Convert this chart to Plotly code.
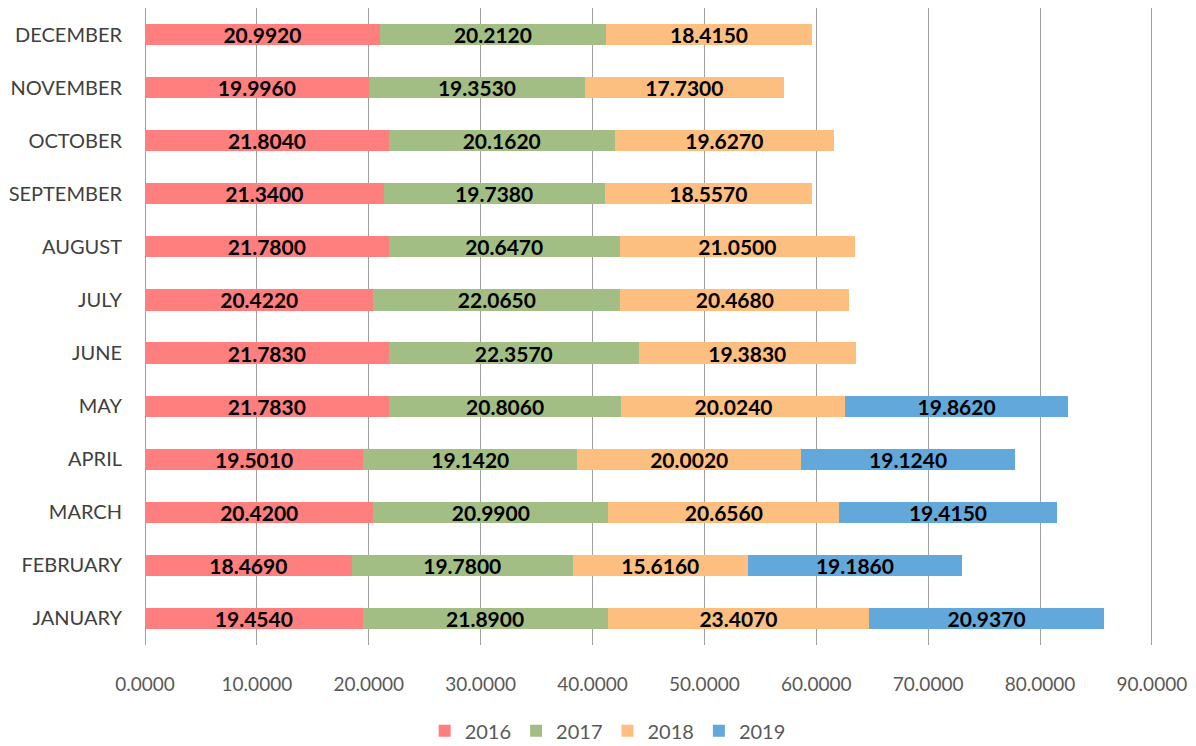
import plotly.graph_objects as go

months = ["JANUARY", "FEBRUARY", "MARCH", "APRIL", "MAY", "JUNE", "JULY",
          "AUGUST", "SEPTEMBER", "OCTOBER", "NOVEMBER", "DECEMBER"]
v2016 = [19.454, 18.469, 20.420, 19.501, 21.783, 21.783, 20.422, 21.780, 21.340, 21.804, 19.996, 20.992]
v2017 = [21.890, 19.780, 20.990, 19.142, 20.806, 22.357, 22.065, 20.647, 19.738, 20.162, 19.353, 20.212]
v2018 = [23.407, 15.616, 20.656, 20.002, 20.024, 19.383, 20.468, 21.050, 18.557, 19.627, 17.730, 18.415]
v2019 = [20.937, 19.186, 19.415, 19.124, 19.862, None, None, None, None, None, None, None]
series_names = ["2016", "2017", "2018", "2019"]
colors = ["#FF7F7F", "#A3BE84", "#FDBF80", "#62A8DA"]
tick_vals = [0, 10, 20, 30, 40, 50, 60, 70, 80, 90]

fig = go.Figure()
for name, vals, col in zip(series_names, [v2016, v2017, v2018, v2019], colors):
    fig.add_trace(go.Bar(
        y=months, x=vals, name=name, orientation="h",
        marker=dict(color=col, line=dict(width=0)),
        text=[f"{v:.4f}" if v is not None else "" for v in vals],
        textposition="inside", insidetextanchor="middle",
        textfont=dict(family="Lato", size=21, color="#000000", weight="bold"),
        constraintext="none", cliponaxis=False,
    ))

fig.update_layout(
    barmode="stack",
    bargap=0.6,
    width=1196, height=746,
    margin=dict(l=137, r=51, t=0, b=109),
    plot_bgcolor="white", paper_bgcolor="white",
    font=dict(family="Lato", size=19, color="#595959"),
    xaxis=dict(range=[0, 90.1], tickvals=tick_vals, tickformat=".4f",
               showgrid=True, gridcolor="#A0A0A0", gridwidth=1,
               zeroline=True, zerolinecolor="#A0A0A0", zerolinewidth=1,
               showline=False, ticks="",
               ticklabelstandoff=26, automargin=False,
               tickfont=dict(size=19, color="#595959")),
    yaxis=dict(showgrid=False, showline=False, ticks="",
               ticklabelstandoff=22, automargin=False,
               tickfont=dict(size=20, color="#404040")),
    legend=dict(orientation="h", x=0.459, xanchor="center",
                yref="container", y=0.031, yanchor="middle",
                font=dict(size=20, color="#595959"), traceorder="normal"),
)

fig.write_html("out.html")
